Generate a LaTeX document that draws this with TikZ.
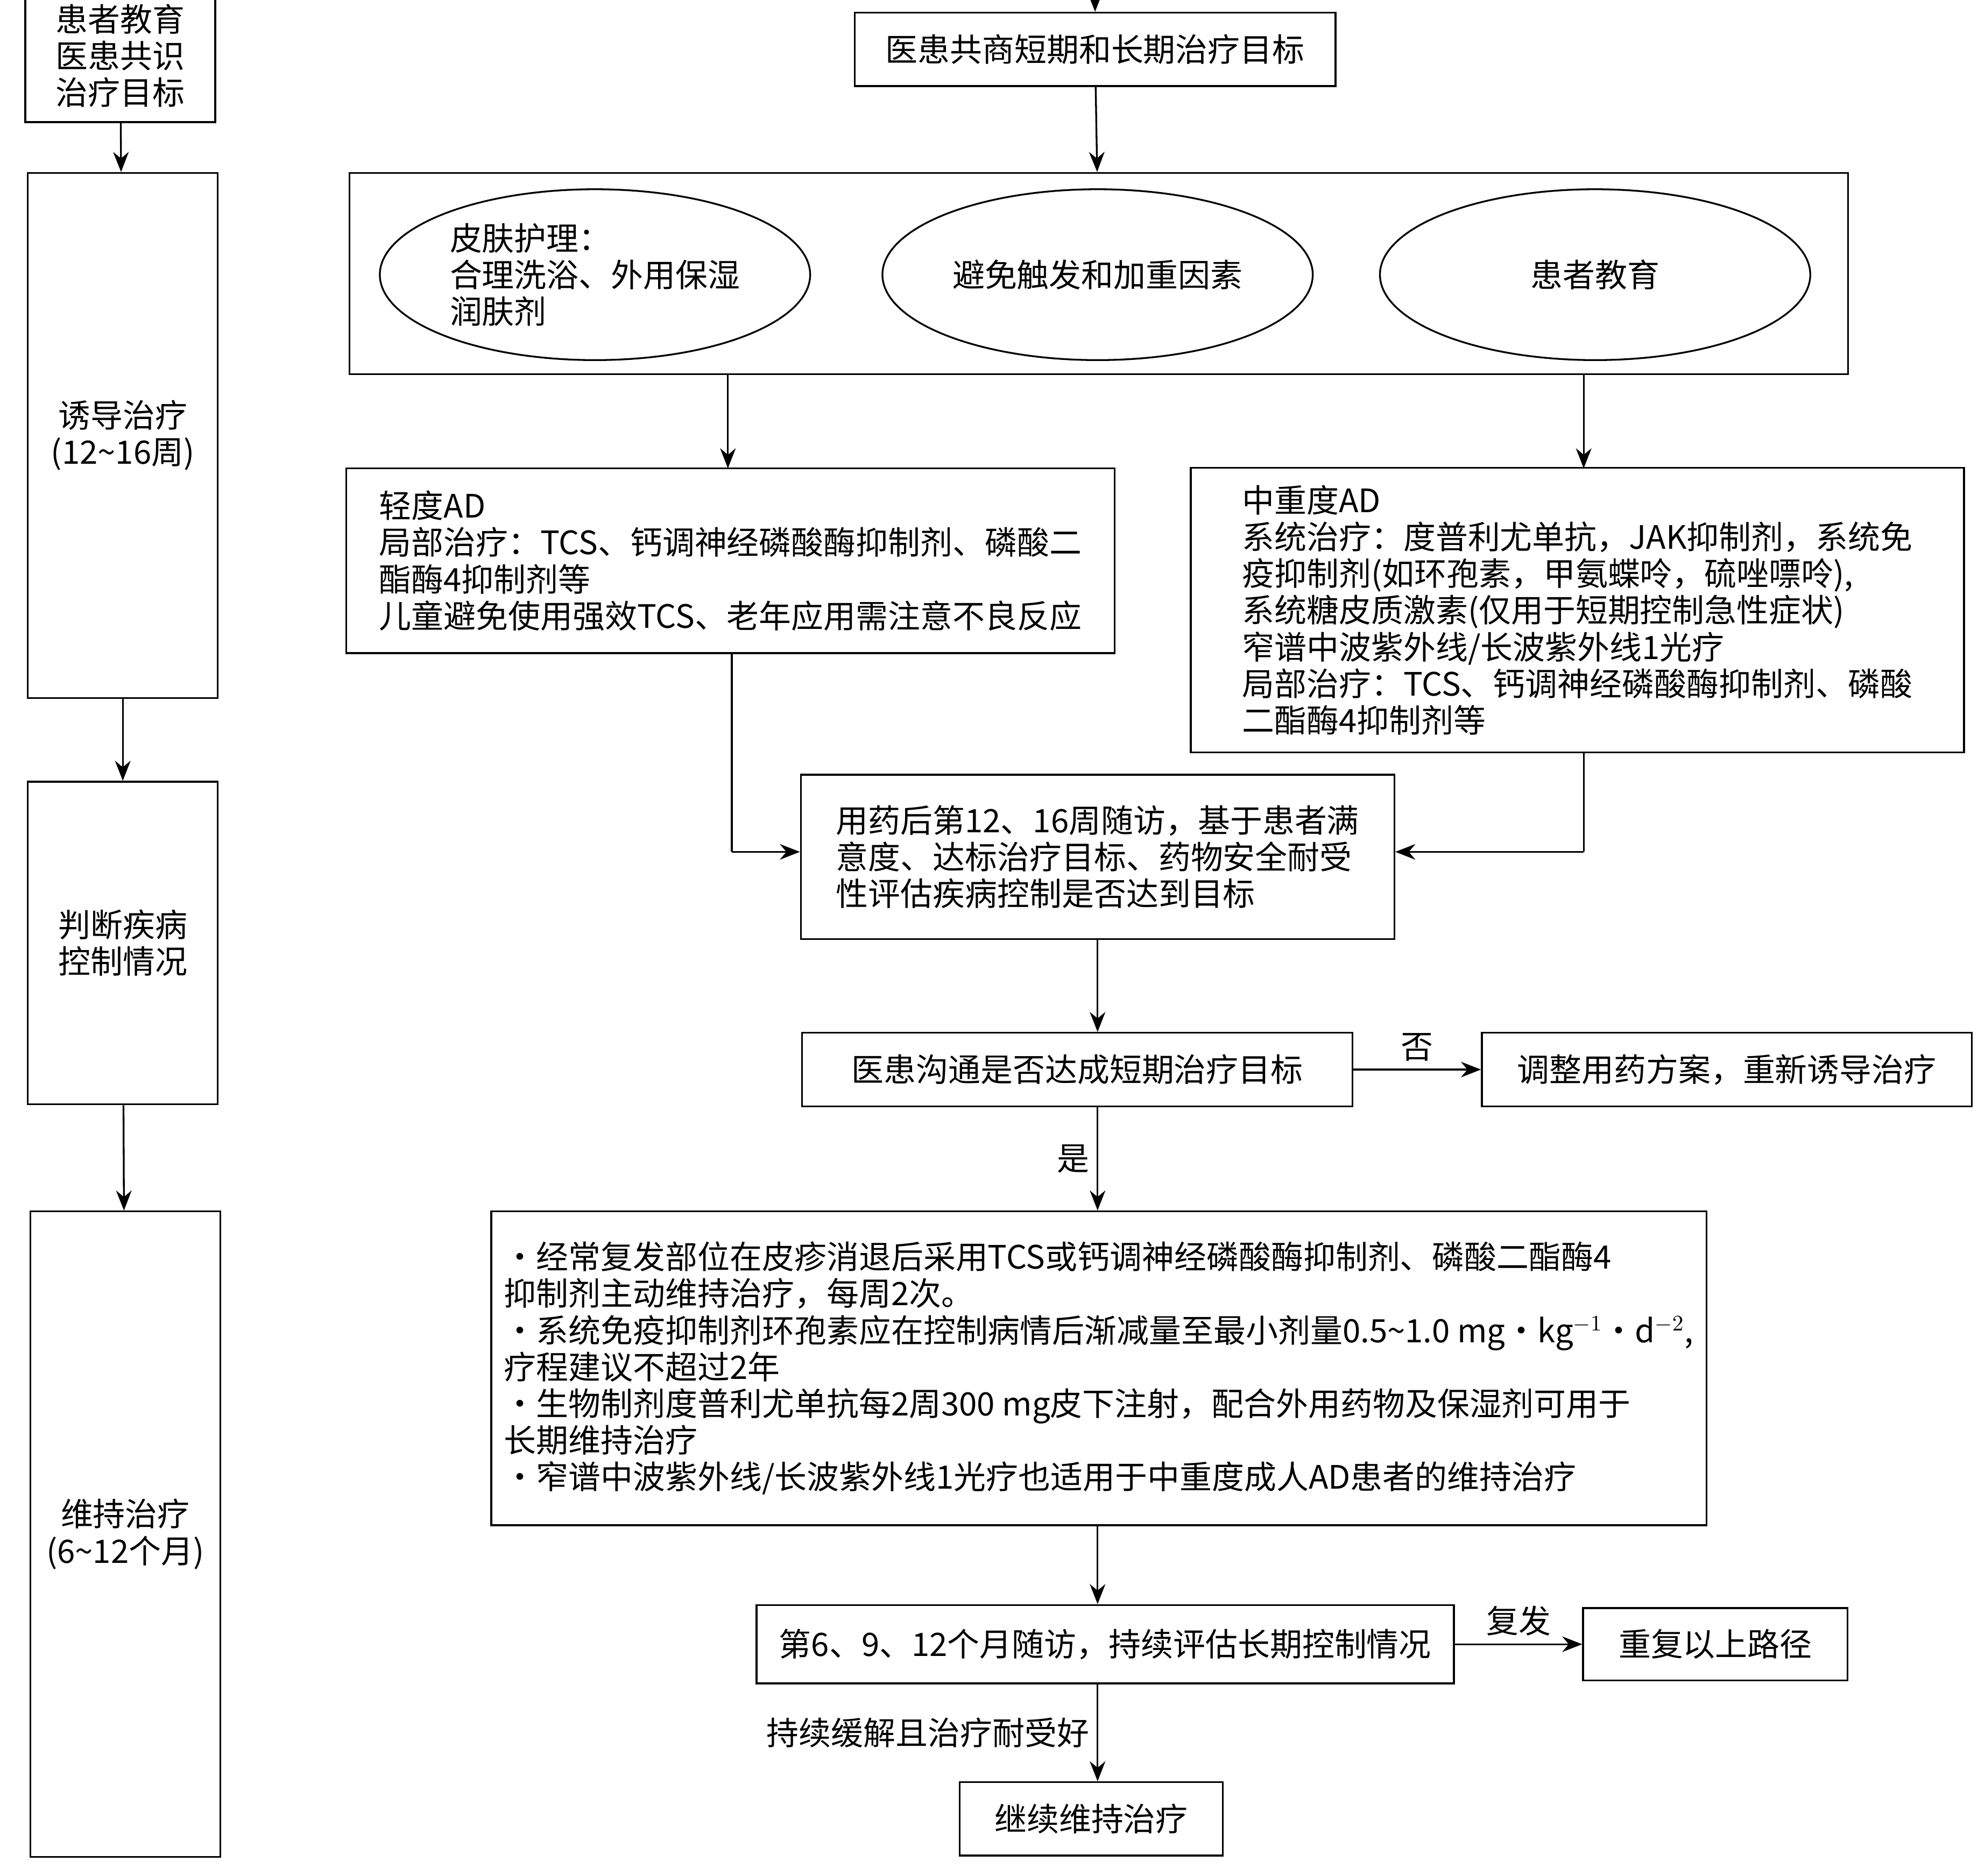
\documentclass[tikz,border=0pt]{standalone}
\usepackage{fontspec}
\setmainfont{Noto Sans CJK SC}
\usetikzlibrary{arrows.meta,shapes.geometric}
\tikzset{
  box/.style={draw, thick, rectangle, align=left, inner sep=0pt},
  side/.style={box, align=center, minimum width=3cm},
  oval/.style={draw, thick, ellipse, minimum width=6.8cm, minimum height=2.7cm, inner sep=0pt, align=left},
  arr/.style={thick, -{Stealth[length=9pt,width=7pt]}},
  lbl/.style={font=\fontsize{14.5}{16.5}\selectfont}
}
\begin{document}
\begin{tikzpicture}[x=0.02cm, y=-0.02cm, font=\fontsize{14.5}{16.5}\selectfont]
\useasboundingbox (0,0) rectangle (1568,1482);
% left column
\node[side, minimum height=2.34cm] (s1) at (95,38) {};
\node[align=center] (s1txt) at (95,44) {患者教育\\医患共识\\治疗目标};
\node[side, minimum height=8.3cm] (s2) at (97,344) {诱导治疗\\(12\textasciitilde16周)};
\node[side, minimum height=5.1cm] (s3) at (97,745) {判断疾病\\控制情况};
\node[side, minimum height=10.2cm] (s4) at (99,1212) {维持治疗\\(6\textasciitilde12个月)};
\draw[arr] (s1) -- (s2);
\draw[arr] (s2) -- (s3);
\draw[arr] (s3) -- (s4);
% main flow
\coordinate (top) at (865,-10);
\node[box, minimum width=7.6cm, minimum height=1.16cm, align=center] (goal) at (865,39) {医患共商短期和长期治疗目标};
\node[box, minimum width=23.68cm, minimum height=3.18cm] (base) at (868,216) {};
\node[oval] (care) at (470,217) {皮肤护理：\\合理洗浴、外用保湿\\润肤剂};
\node[oval] (avoid) at (867,217) {避免触发和加重因素};
\node[oval] (edu) at (1260,217) {患者教育};
\draw[arr] (top) -- (goal);
\draw[arr] (goal) -- (base);
\node[box, minimum width=12.14cm, minimum height=2.92cm] (mild) at (577,443) {轻度AD\\局部治疗：TCS、钙调神经磷酸酶抑制剂、磷酸二\\酯酶4抑制剂等\\儿童避免使用强效TCS、老年应用需注意不良反应};
\node[box, minimum width=12.22cm, minimum height=4.5cm] (severe) at (1246,482) {中重度AD\\系统治疗：度普利尤单抗，JAK抑制剂，系统免\\疫抑制剂(如环孢素，甲氨蝶呤，硫唑嘌呤),\\系统糖皮质激素(仅用于短期控制急性症状)\\窄谱中波紫外线/长波紫外线1光疗\\局部治疗：TCS、钙调神经磷酸酶抑制剂、磷酸\\二酯酶4抑制剂等};
\draw[arr] (575,296) -- (575,370);
\draw[arr] (1251,296) -- (1251,370);
\node[box, minimum width=9.38cm, minimum height=2.6cm] (visit) at (867,677) {用药后第12、16周随访，基于患者满\\意度、达标治疗目标、药物安全耐受\\性评估疾病控制是否达到目标};
\coordinate (m1) at (578,673);
\coordinate (m2) at (1251,673);
\draw[thick] (578,516) -- (m1);
\draw[arr] (m1) -- (visit.west |- m1);
\draw[thick] (1251,595) -- (m2);
\draw[arr] (m2) -- (visit.east |- m2);
\node[box, minimum width=8.7cm, minimum height=1.16cm, align=center] (ask) at (851,845) {医患沟通是否达成短期治疗目标};
\node[box, minimum width=7.74cm, minimum height=1.16cm, align=center] (adjust) at (1364,845) {调整用药方案，重新诱导治疗};
\draw[arr] (visit.south -| 867,0) -- (ask.north -| 867,0);
\draw[arr] (ask) -- node[lbl, above] {否} (adjust);
\node[box, minimum width=19.2cm, minimum height=4.96cm] (keep) at (868,1081) {·经常复发部位在皮疹消退后采用TCS或钙调神经磷酸酶抑制剂、磷酸二酯酶4\\抑制剂主动维持治疗，每周2次。\\·系统免疫抑制剂环孢素应在控制病情后渐减量至最小剂量0.5\textasciitilde1.0 mg·kg$^{-1}$·d$^{-2}$,\\疗程建议不超过2年\\·生物制剂度普利尤单抗每2周300 mg皮下注射，配合外用药物及保湿剂可用于\\长期维持治疗\\·窄谱中波紫外线/长波紫外线1光疗也适用于中重度成人AD患者的维持治疗};
\draw[arr] (ask.south -| 867,0) -- node[lbl, left] {是} (keep.north -| 867,0);
\node[box, minimum width=11.02cm, minimum height=1.24cm, align=center] (follow) at (873,1299) {第6、9、12个月随访，持续评估长期控制情况};
\node[box, minimum width=4.18cm, minimum height=1.14cm, align=center] (repeat) at (1355,1299) {重复以上路径};
\draw[arr] (keep.south -| 867,0) -- (follow.north -| 867,0);
\draw[arr] (follow) -- node[lbl, above] {复发} (repeat);
\node[box, minimum width=4.16cm, minimum height=1.16cm, align=center] (cont) at (862,1437) {继续维持治疗};
\draw[arr] (follow.south -| 867,0) -- node[lbl, left] {持续缓解且治疗耐受好} (cont.north -| 867,0);
\end{tikzpicture}
\end{document}
